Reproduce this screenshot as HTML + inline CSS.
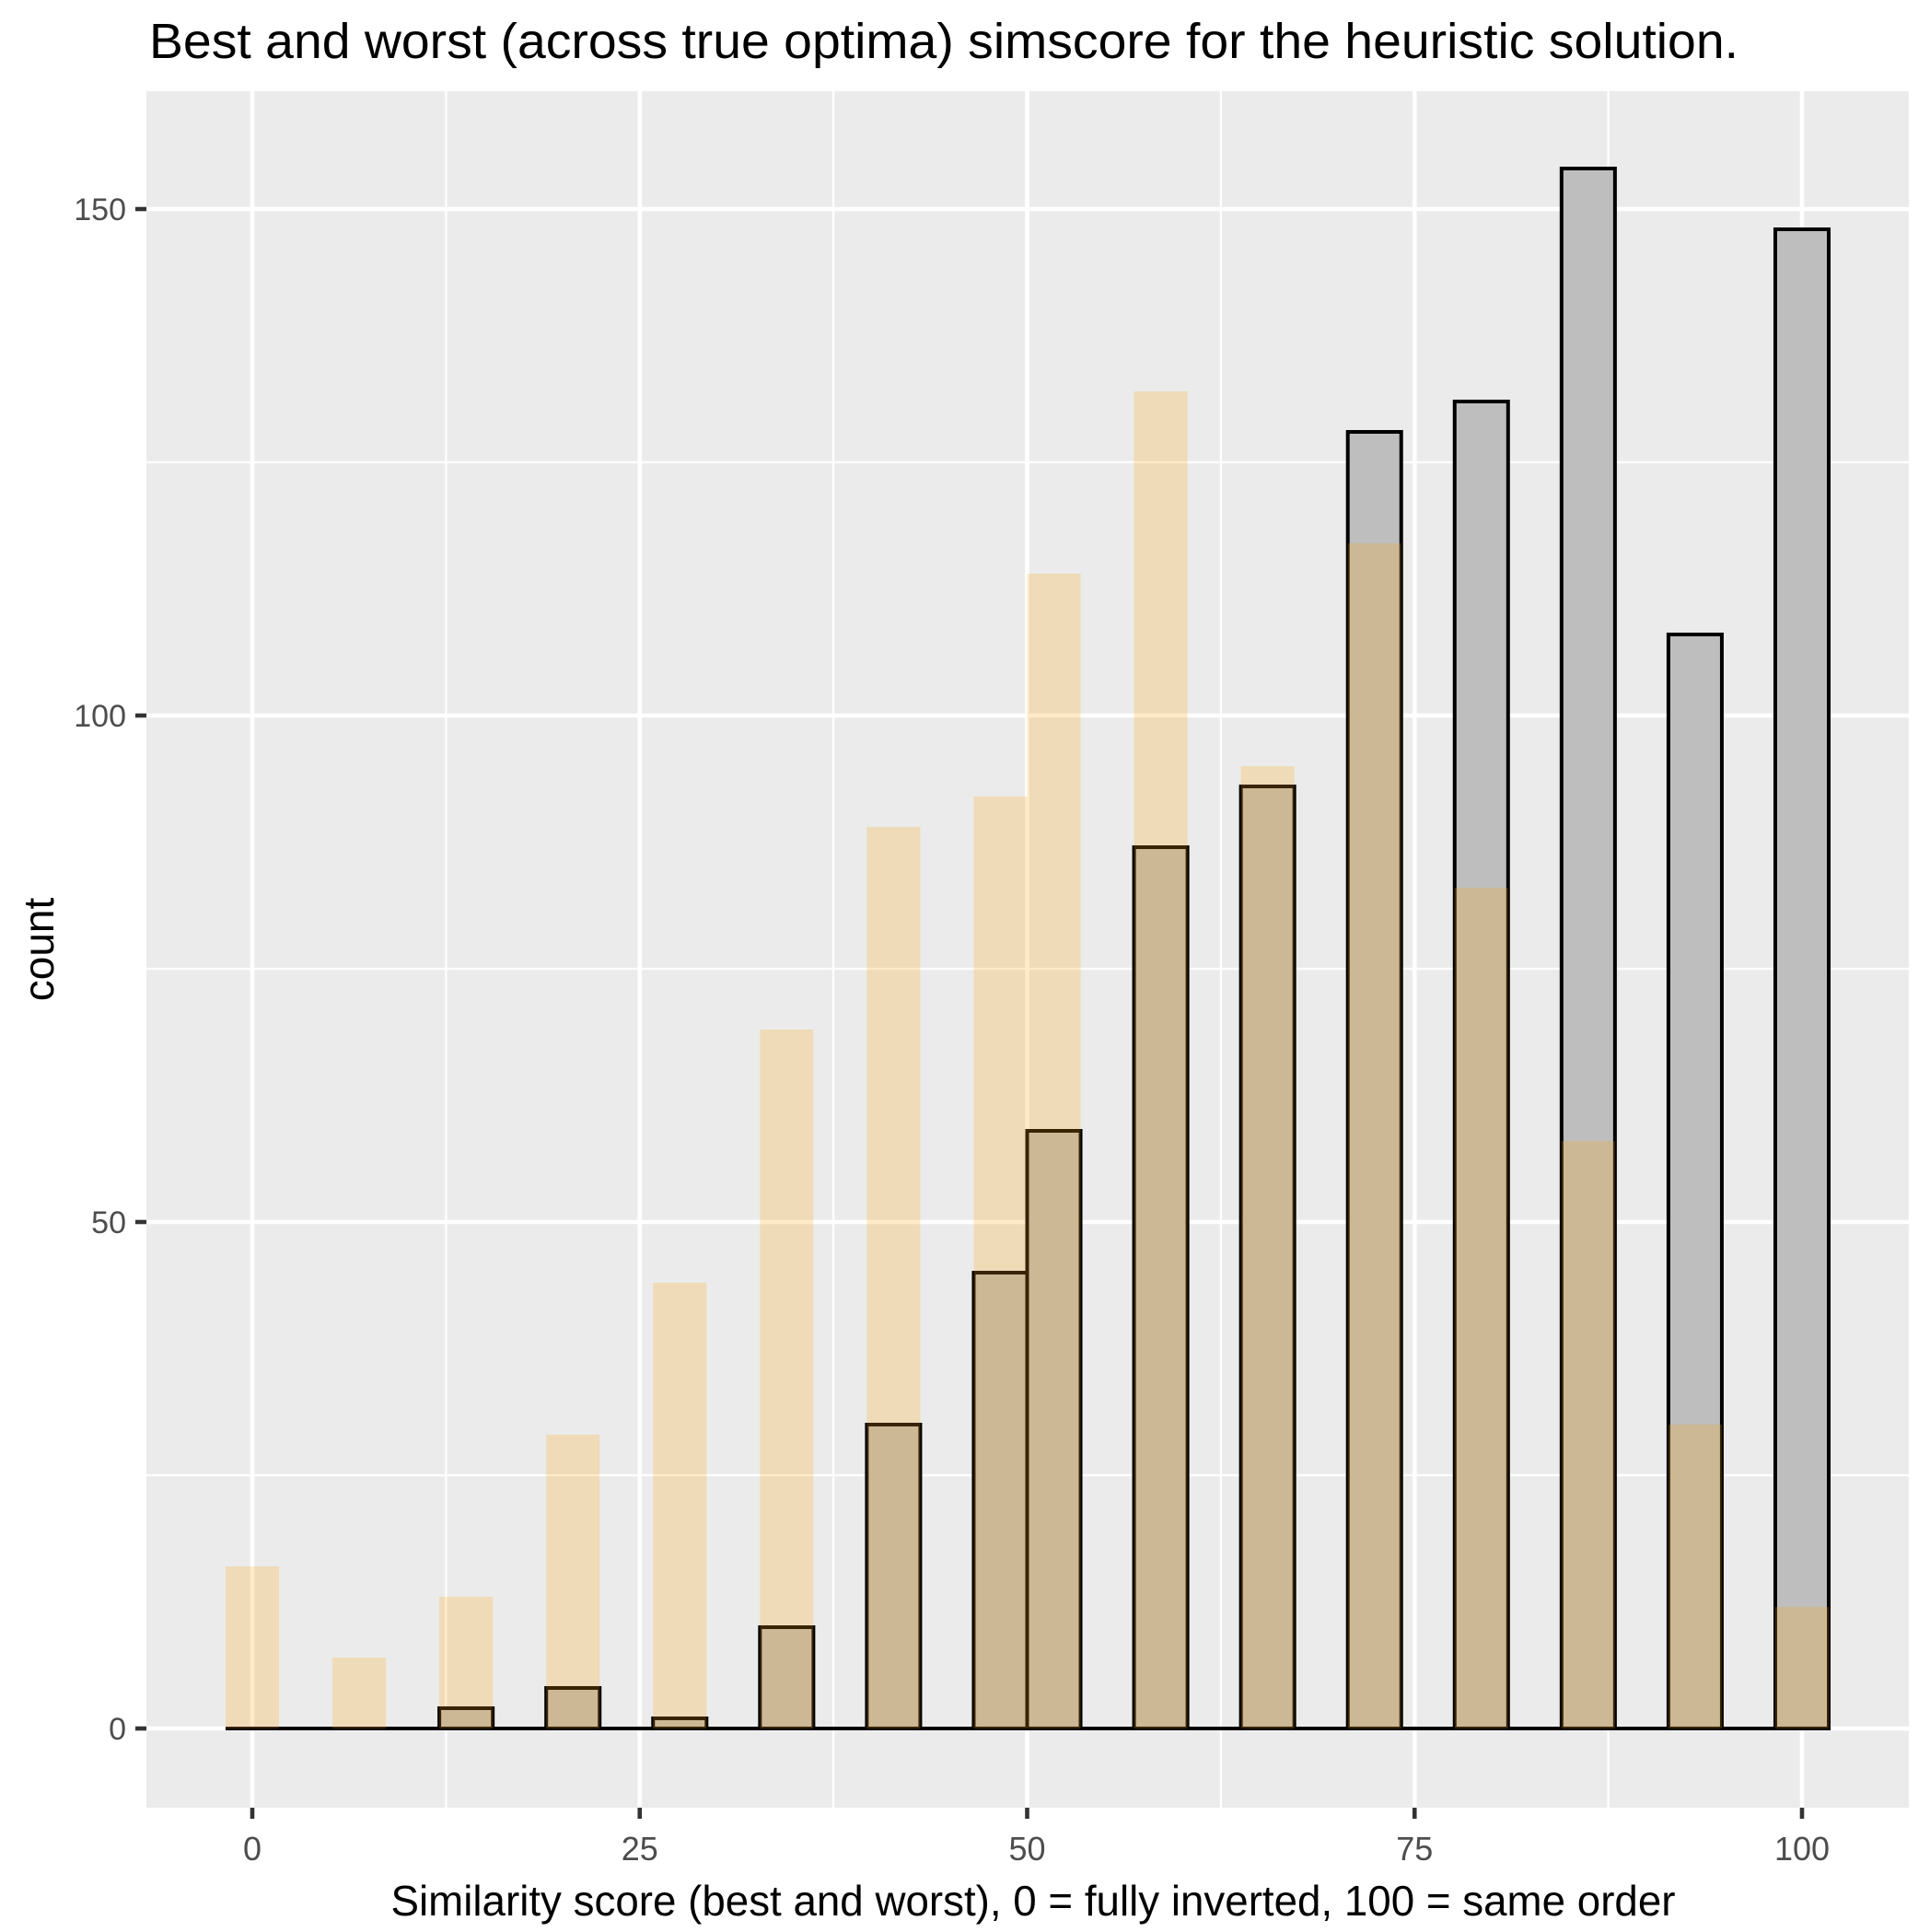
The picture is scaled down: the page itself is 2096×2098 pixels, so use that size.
<!DOCTYPE html>
<html><head><meta charset="utf-8"><style>
html,body{margin:0;padding:0;background:#fff;}
svg{display:block;font-family:"Liberation Sans",Arial,sans-serif;}
</style></head><body>
<svg id="chart" width="2096" height="2098" viewBox="0 0 2096 2098" xmlns="http://www.w3.org/2000/svg">
<rect width="2096" height="2098" fill="#fff"/>
<text x="162" y="63" font-size="54" fill="#000" textLength="1726" lengthAdjust="spacingAndGlyphs">Best and worst (across true optima) simscore for the heuristic solution.</text>
<rect x="159" y="99" width="1914" height="1864" fill="#ebebeb"/>
<g id="grid"></g>
<g id="bars"></g>
<g id="axes"></g>
<text x="1122" y="2080" font-size="46" text-anchor="middle" fill="#000" textLength="1395" lengthAdjust="spacingAndGlyphs">Similarity score (best and worst), 0 = fully inverted, 100 = same order</text>
<text x="0" y="0" font-size="46" text-anchor="middle" fill="#000" transform="translate(58,1031) rotate(-90)">count</text>
</svg>
<script>
const binCenters = [0,3.448,6.897,10.345,13.793,17.241,20.69,24.138,27.586,31.034,34.483,37.931,41.379,44.828,48.276,51.724,55.172,58.621,62.069,65.517,68.966,72.414,75.862,79.31,82.759,86.207,89.655,93.103,96.552,100];
const bestCounts = [0,0,0,0,2,0,4,0,1,0,10,0,30,0,45,59,0,87,0,93,0,128,0,131,0,154,0,108,0,148];
const worstCounts = [16,0,7,0,13,0,29,0,44,0,69,0,89,0,92,114,0,132,0,95,0,117,0,83,0,58,0,30,0,12];
const xMajorTicks = [0,25,50,75,100];
const xMinorTicks = [12.5,37.5,62.5,87.5];
const yMajorTicks = [0,50,100,150];
const yMinorTicks = [25,75,125];
const binWidth = 100/29;

const PL=159, PR=2073, PT=99, PB=1963;
const X0=274, XS=16.83, Y0=1877, YS=11.0;
function xs(v){return X0+v*XS;}
function ys(c){return Y0-c*YS;}
const NS="http://www.w3.org/2000/svg";
function mk(tag,attrs,parent){const e=document.createElementNS(NS,tag);for(const k in attrs)e.setAttribute(k,attrs[k]);parent.appendChild(e);return e;}
const grid=document.getElementById('grid'), bars=document.getElementById('bars'), axes=document.getElementById('axes');

xMinorTicks.forEach(v=>{const l=mk('line',{x1:xs(v),x2:xs(v),y1:PT,y2:PB,stroke:'#fff','stroke-width':2.3},grid);

});
yMinorTicks.forEach(v=>{const l=mk('line',{x1:PL,x2:PR,y1:ys(v),y2:ys(v),stroke:'#fff','stroke-width':2.3},grid);

});
xMajorTicks.forEach(v=>{const l=mk('line',{x1:xs(v),x2:xs(v),y1:PT,y2:PB,stroke:'#fff','stroke-width':4.6},grid);


const t=mk('line',{x1:xs(v),x2:xs(v),y1:PB,y2:PB+12,stroke:'#333','stroke-width':4.6},axes);


const tx=mk('text',{x:xs(v),y:2020,'font-size':36,'text-anchor':'middle',fill:'#4d4d4d'},axes);tx.textContent=v;

});
yMajorTicks.forEach(v=>{const l=mk('line',{x1:PL,x2:PR,y1:ys(v),y2:ys(v),stroke:'#fff','stroke-width':4.6},grid);


const t=mk('line',{x1:PL-12,x2:PL,y1:ys(v),y2:ys(v),stroke:'#333','stroke-width':4.6},axes);


const tx=mk('text',{x:PL-22,y:ys(v)+12,'font-size':34,'text-anchor':'end',fill:'#4d4d4d'},axes);tx.textContent=v;

});

binCenters.forEach((c,i)=>{const x=xs(c-binWidth/2), w=binWidth*XS, h=bestCounts[i]*YS;
const r=mk('rect',{x:x,y:ys(bestCounts[i]),width:w,height:h,fill:'#bebebe',stroke:'#000','stroke-width':4},bars);

});
const base=mk('line',{x1:xs(binCenters[0]-binWidth/2),x2:xs(binCenters[binCenters.length-1]+binWidth/2),y1:ys(0),y2:ys(0),stroke:'#000','stroke-width':4},bars);


binCenters.forEach((c,i)=>{const x=xs(c-binWidth/2), w=binWidth*XS, h=worstCounts[i]*YS;
const r=mk('rect',{x:x,y:ys(worstCounts[i]),width:w,height:h,fill:'rgba(255,165,0,0.22)'},bars);

});
</script>
</body></html>
